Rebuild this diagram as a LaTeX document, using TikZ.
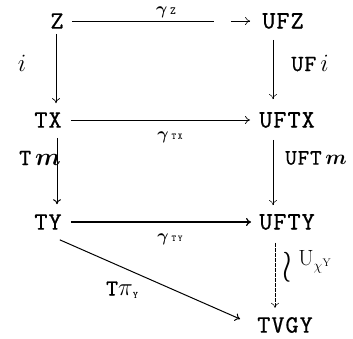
\documentclass[tikz,border=0pt]{standalone}
\usepackage{bm}
\usepackage{graphicx}
\usepackage{fontspec}
\setmonofont{lmmono10-regular.otf}[LetterSpace=4, FakeBold=0.6]
\newfontfamily\subtt{lmmonolt10-bold.otf}
\usetikzlibrary{arrows.meta}
\begin{document}
\begin{tikzpicture}[x=1pt,y=-1pt,
  obj/.style={font=\ttfamily\fontsize{25}{28}\selectfont, inner sep=0pt},
  lab/.style={font=\ttfamily\fontsize{23}{26}\selectfont, inner sep=0pt},
  glab/.style={font=\fontsize{17}{20}\selectfont, inner sep=0pt},
  arr/.style={-{To[length=5pt,width=8pt]}, line width=0.7pt},
  arrthin/.style={-{To[length=5pt,width=8pt]}, line width=0.5pt}]
\useasboundingbox (0,0) rectangle (353,338);
% objects
\node[obj] (Z) at (57,21) {Z};
\node[obj] (UFZ) at (283,21) {UFZ};
\node[obj] (TX) at (48,120) {TX};
\node[obj] (UFTX) at (287,120) {UFTX};
\node[obj] (TY) at (48,222) {TY};
\node[obj] (UFTY) at (287,222) {UFTY};
\node[obj] (TVGY) at (285,325) {TVGY};
% horizontal arrows
\draw[arr, line width=0.6pt, dash pattern=on 142pt off 17pt on 30pt]
  ([xshift=8pt]Z.east) -- ([xshift=-12pt]UFZ.west);
\draw[arr] ([xshift=9pt]TX.east) -- ([xshift=-9pt]UFTX.west);
\draw[arr, line width=1.2pt] ([xshift=9pt]TY.east) -- ([xshift=-8pt]UFTY.west);
% vertical arrows, left
\draw[arr, shorten <=5pt, shorten >=9pt] ([xshift=-1pt]Z.south) -- ([xshift=-1pt]Z.south |- TX.north);
\draw[arr, line width=1pt, shorten <=10pt, shorten >=10pt]
  ([xshift=9pt]TX.south) -- ([xshift=9pt]TX.south |- TY.north);
% vertical arrows, right
\draw[arrthin, shorten <=11pt, shorten >=13pt]
  ([xshift=-10pt]UFZ.south) -- ([xshift=-10pt]UFZ.south |- UFTX.north);
\draw[arrthin, shorten <=12pt, shorten >=9pt]
  ([xshift=-14pt]UFTX.south) -- ([xshift=-14pt]UFTX.south |- UFTY.north);
\draw[arrthin, dash pattern=on 4pt off 1pt, shorten <=13pt, shorten >=9pt]
  ([xshift=-12pt]UFTY.south) -- ([xshift=-12pt]UFTY.south |- TVGY.north);
% diagonal
\draw[arr, line width=1pt] ([shift={(-2,10)}]TY.south east) -- ([shift={(-17,-6)}]TVGY.west);
% labels
\node[glab] (gz) at (166,12) {$\bm{\gamma}$\,{\subtt\fontsize{11}{12}\selectfont Z}};
\node[glab] (gtx) at (170,137) {$\bm{\gamma}$\,{\subtt\fontsize{9}{10}\selectfont T\,X}};
\node[glab] (gty) at (170,239) {$\bm{\gamma}$\,{\subtt\fontsize{9}{10}\selectfont T\,Y}};
\node[lab] (li) at (22,63) {$i$};
\node[lab] (lufi) at (310,63) {UF\,$i$};
\node[lab] (ltm) at (40,158) {T\,$\bm{m}$};
\node[lab, font=\ttfamily\fontsize{22}{26}\selectfont] (luftm) at (316,158) {UFT\,$\bm{m}$};
\node[lab] (ltpi) at (122,290) {T$\pi$\raisebox{-0.3ex}{\subtt\fontsize{10}{11}\selectfont Y}};
\node[glab] (lwr) at (287,267) {\scalebox{2}[2.6]{$\wr$}};
\node[glab, font=\fontsize{22}{24}\selectfont] (lux) at (315,262) {$\mathrm{U}_{\chi^{\mathrm{Y}}}$};
\end{tikzpicture}
\end{document}
